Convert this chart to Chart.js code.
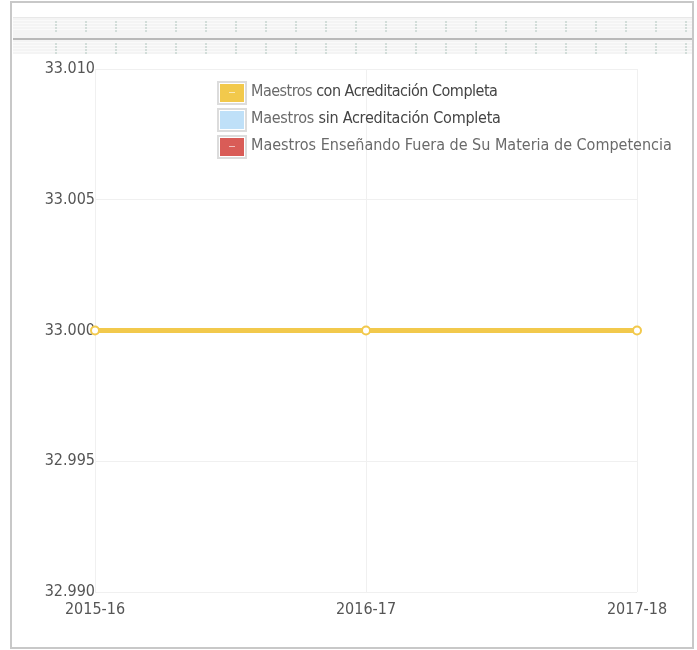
<!DOCTYPE html>
<html>
<head>
<meta charset="utf-8">
<script src="https://cdn.jsdelivr.net/npm/chart.js@4/dist/chart.umd.min.js"></script>
<style>
  html, body { margin: 0; padding: 0; background: #fff; }
  #frame {
    position: absolute; left: 10px; top: 1px; width: 680px; height: 644px;
    border: 2px solid #c8c8c8;
  }
  #strip {
    position: absolute; left: 13px; top: 17px; width: 679px; height: 36px;
    background: #f4f4f4; border-top: 1px solid #e8e8e8;
  }
  #strip .marks {
    position: absolute; left: 0; right: 0; height: 12px;
    background:
      repeating-linear-gradient(0deg, transparent 0 2px, #fff 2px 3px),
      repeating-linear-gradient(90deg, transparent 0 28px, #b7cbc4 28px 30px);
    background-position: 0 0, 14px 0;
    opacity: 0.55;
  }
  #strip .bar {
    position: absolute; left: 0; right: 0; top: 20px; height: 2px; background: #b9b9b9;
  }
  #wrap { position: absolute; left: 0; top: 0; width: 697px; height: 650px; }
  #legend {
    position: absolute; left: 217px; top: 79px;
    font-family: "DejaVu Sans Condensed", "DejaVu Sans", sans-serif; font-size: 16px;
  }
  .row { display: flex; align-items: center; height: 27px; }
  .box {
    width: 24px; height: 18px; border: 2px solid #dcdcdc; background: #fff;
    padding: 1px; box-sizing: content-box; margin-right: 4px; position: relative;
  }
  .fill { width: 100%; height: 100%; position: relative; }
  .fill i {
    position: absolute; left: 9px; top: 8px; width: 6px; height: 1px;
    background: rgba(255,255,255,0.6);
  }
  .txt { color: #444; margin-top: -5px; white-space: nowrap; }
  .txt.n0 { letter-spacing: -0.5px; }
  .txt.n1 { letter-spacing: -0.25px; }
  .txt span { color: #6a6a6a; }
</style>
</head>
<body>
<div id="frame"></div>
<div id="strip">
  <div class="marks" style="top:2px"></div>
  <div class="bar"></div>
  <div class="marks" style="top:24px"></div>
</div>
<div id="wrap"><canvas id="chart" width="697" height="650"></canvas></div>
<div id="legend"></div>
<script>
const categories = ['2015-16', '2016-17', '2017-18'];
const conAcreditacion = [33, 33, 33];
const sinAcreditacion = [null, null, null];
const fueraDeMateria = [null, null, null];
const seriesNames = [
  'Maestros con Acreditación Completa',
  'Maestros sin Acreditación Completa',
  'Maestros Enseñando Fuera de Su Materia de Competencia'
];
const seriesColors = ['#f2c94c', '#bfe0f8', '#d95c57'];
const yTicks = [32.99, 32.995, 33.0, 33.005, 33.01];

const FONT = "'DejaVu Sans Condensed', 'DejaVu Sans', sans-serif";

// legend
const legend = document.getElementById('legend');
seriesNames.forEach((name, i) => {
  const row = document.createElement('div');
  row.className = 'row';
  const first = name.split(' ')[0];
  const rest = name.slice(first.length);
  const txt = i < 2
    ? `<div class="txt n${i}"><span>${first}</span>${rest}</div>`
    : `<div class="txt"><span>${name}</span></div>`;
  row.innerHTML = `<div class="box"><div class="fill" style="background:${seriesColors[i]}">${i === 1 ? '' : '<i></i>'}</div></div>${txt}`;
  legend.appendChild(row);
});

const series = [conAcreditacion, sinAcreditacion, fueraDeMateria];

new Chart(document.getElementById('chart'), {
  type: 'line',
  data: {
    labels: categories,
    datasets: series.map((data, i) => ({
      label: seriesNames[i],
      data: data,
      borderColor: seriesColors[i],
      backgroundColor: '#ffffff',
      borderWidth: 5,
      pointRadius: 4,
      pointBorderWidth: 2,
      pointBorderColor: seriesColors[i],
      pointBackgroundColor: '#ffffff',
      tension: 0
    }))
  },
  options: {
    responsive: false,
    devicePixelRatio: 1,
    animation: false,
    layout: { padding: { top: 69, right: 60, left: 0, bottom: 0 } },
    plugins: {
      legend: { display: false },
      tooltip: { enabled: false }
    },
    scales: {
      x: {
        grid: { color: '#f0f0f0', drawTicks: false },
        border: { display: false },
        ticks: { color: '#555', font: { family: FONT, size: 16 }, padding: 8, maxRotation: 0 },
        afterFit: (axis) => { axis.height = 58; }
      },
      y: {
        min: yTicks[0],
        max: yTicks[yTicks.length - 1],
        grid: { color: '#f0f0f0', drawTicks: false },
        border: { display: false },
        afterBuildTicks: (axis) => { axis.ticks = yTicks.map(v => ({ value: v })); },
        ticks: {
          color: '#555', font: { family: FONT, size: 16 }, padding: 0,
          callback: (v) => Number(v).toFixed(3)
        },
        afterFit: (axis) => { axis.width = 95; }
      }
    }
  }
});
</script>
</body>
</html>
